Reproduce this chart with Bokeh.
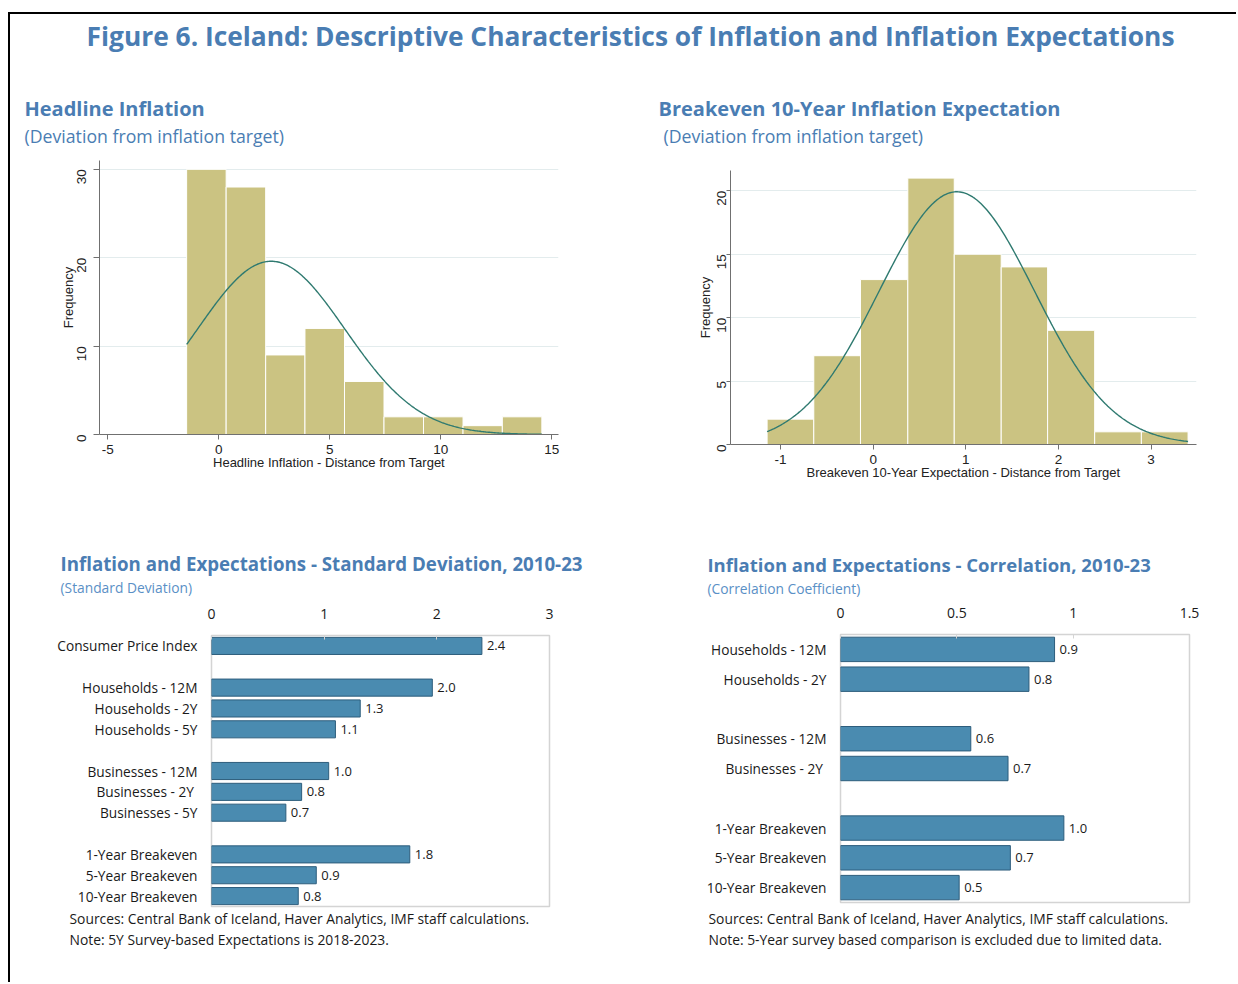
import math
import numpy as np
from bokeh.plotting import figure
from bokeh.models import (Range1d, FactorRange, Title, FixedTicker, ColumnDataSource,
                          NumeralTickFormatter, PrintfTickFormatter, Div)
from bokeh.embed import file_html
from bokeh.resources import INLINE
from bokeh.core.properties import value

# ---------------- data ----------------
main_title = "Figure 6. Iceland: Descriptive Characteristics of Inflation and Inflation Expectations"

headline_edges = [-1.45, 0.33, 2.11, 3.88, 5.66, 7.44, 9.22, 11.0, 12.77, 14.55]
headline_counts = [30, 28, 9, 12, 6, 2, 2, 1, 2]
headline_xticks = [-5, 0, 5, 10, 15]
headline_yticks = [0, 10, 20, 30]

breakeven_edges = [-1.145, -0.641, -0.137, 0.374, 0.875, 1.382, 1.883, 2.391, 2.895, 3.399]
breakeven_counts = [2, 7, 13, 21, 15, 14, 9, 1, 1]
breakeven_xticks = [-1, 0, 1, 2, 3]
breakeven_yticks = [0, 5, 10, 15, 20]

sd_groups = [
    ["Consumer Price Index"],
    ["Households - 12M", "Households - 2Y", "Households - 5Y"],
    ["Businesses - 12M", "Businesses -  2Y", "Businesses - 5Y"],
    ["1-Year Breakeven", "5-Year Breakeven", "10-Year Breakeven"],
]
sd_values = [2.40, 1.96, 1.32, 1.10, 1.04, 0.80, 0.66, 1.76, 0.93, 0.77]
sd_xticks = [0, 1, 2, 3]

corr_groups = [
    ["Households - 12M", "Households - 2Y"],
    ["Businesses - 12M", "Businesses -  2Y"],
    ["1-Year Breakeven", "5-Year Breakeven", "10-Year Breakeven"],
]
corr_values = [0.92, 0.81, 0.56, 0.72, 0.96, 0.73, 0.51]
corr_xticks = [0, 0.5, 1, 1.5]

sources = "Sources: Central Bank of Iceland, Haver Analytics, IMF staff calculations."
sd_note = "Note: 5Y Survey-based Expectations is 2018-2023."
corr_note = "Note: 5-Year survey based comparison is excluded due to limited data."

# ---------------- styles ----------------
TITLE_BLUE = "#4a7db3"
SUB_BLUE = "#5a90c6"
KHAKI = "#cbc382"
CURVE = "#2f7a70"
BAR_BLUE = "#4a8bb0"
BAR_EDGE = "#2d5d7c"
HEAD_FONT = "Open Sans"
HIST_FONT = "Liberation Sans"
NBSP = "\u00a0"


def place(x, y):
    return {"position": "absolute", "left": f"{x}px", "top": f"{y}px"}


def spacer(p, side, standoff):
    p.add_layout(Title(text=NBSP, text_font_size="2px", standoff=standoff), side)


def text_title(p, side, text, offset, size, color, bold=False):
    p.add_layout(Title(text=text, align="left", offset=offset, text_font=HEAD_FONT,
                       text_font_size=size, text_font_style="bold" if bold else "normal",
                       text_color=color, standoff=0), side)


def histogram(edges, counts, xticks, yticks, xr, yr, xlabel, pos, width, height, borders,
              ytick_out, ylab_standoff, yaxis_label_standoff):
    p = figure(width=width, height=height, x_range=Range1d(*xr), y_range=Range1d(*yr),
               toolbar_location=None, output_backend="svg", outline_line_color=None,
               min_border_left=borders[0], min_border_right=borders[1],
               min_border_top=borders[2], min_border_bottom=borders[3],
               styles=place(*pos))
    e = np.array(edges, dtype=float)
    c = np.array(counts, dtype=float)
    p.quad(left=e[:-1], right=e[1:], bottom=0, top=c, fill_color=KHAKI, line_color="white", line_width=1)
    # normal density overlay using the histogram's own mean and standard deviation
    mids = (e[:-1] + e[1:]) / 2
    n = c.sum()
    mean = (mids * c).sum() / n
    sd = math.sqrt((c * (mids - mean) ** 2).sum() / (n - 1))
    bw = (e[-1] - e[0]) / len(c)
    xs = np.linspace(e[0], e[-1], 300)
    ys = n * bw * np.exp(-0.5 * ((xs - mean) / sd) ** 2) / (sd * math.sqrt(2 * math.pi))
    p.line(xs, ys, line_color=CURVE, line_width=1.4)

    p.xgrid.visible = False
    p.ygrid.ticker = FixedTicker(ticks=yticks[1:])
    p.ygrid.grid_line_color = "#e3eced"
    p.xaxis.ticker = FixedTicker(ticks=xticks)
    p.xaxis.formatter = PrintfTickFormatter(format="%d")
    p.yaxis.ticker = FixedTicker(ticks=yticks)
    for ax in (p.xaxis[0], p.yaxis[0]):
        ax.axis_line_color = "#707070"
        ax.major_tick_line_color = "#707070"
        ax.major_tick_in = 0
        ax.minor_tick_line_color = None
        ax.major_label_text_font = HIST_FONT
        ax.major_label_text_font_size = "13.5px"
        ax.major_label_text_color = "#222222"
        ax.axis_label_text_font = HIST_FONT
        ax.axis_label_text_font_size = "13px"
        ax.axis_label_text_font_style = "normal"
        ax.axis_label_text_color = "#222222"
    p.xaxis.major_tick_out = 5
    p.yaxis.major_tick_out = ytick_out
    p.yaxis.major_label_orientation = math.pi / 2
    p.yaxis.axis_label = "Frequency"
    p.yaxis.major_label_standoff = ylab_standoff
    p.yaxis.axis_label_standoff = yaxis_label_standoff
    p.xaxis.axis_label = xlabel
    p.xaxis.major_label_standoff = 5
    p.xaxis.axis_label_standoff = -2
    return p


def bar_chart(groups, values, xticks, xr, pos, width, height, borders, fmt):
    factors = []
    for gi, g in enumerate(groups):
        if gi > 0:
            factors.append(" " * gi)
        factors.extend(g)
    cats = [c for g in groups for c in g]
    src = ColumnDataSource(dict(cat=cats, val=values, lab=[f"{v:.1f}" for v in values]))
    p = figure(width=width, height=height, x_range=Range1d(*xr),
               y_range=FactorRange(factors=factors[::-1]), x_axis_location="above",
               toolbar_location=None, output_backend="svg",
               outline_line_color="#d4d4d4", outline_line_width=1.5,
               min_border_left=borders[0], min_border_right=borders[1],
               min_border_top=borders[2], min_border_bottom=borders[3],
               styles=place(*pos))
    p.hbar(y="cat", left=0, right="val", height=0.82, source=src,
           fill_color=BAR_BLUE, line_color=BAR_EDGE, line_width=1)
    p.text(x="val", y="cat", text="lab", source=src, x_offset=5, text_baseline="middle",
           text_font=value(HEAD_FONT), text_font_size="13px", text_color="#1a1a1a")
    p.grid.visible = False
    p.xaxis.ticker = FixedTicker(ticks=xticks)
    if fmt:
        p.xaxis.formatter = NumeralTickFormatter(format=fmt)
    for ax in (p.xaxis[0], p.yaxis[0]):
        ax.axis_line_color = None
        ax.minor_tick_line_color = None
        ax.major_label_text_font = HEAD_FONT
        ax.major_label_text_color = "#1a1a1a"
    p.xaxis.major_label_text_font_size = "14px"
    p.yaxis.major_label_text_font_size = "13.7px"
    p.xaxis.major_tick_in = 4
    p.xaxis.major_tick_out = 0
    p.xaxis.major_tick_line_color = "#d4d4d4"
    p.xaxis.major_label_standoff = 17
    p.yaxis.major_tick_line_color = None
    p.yaxis.major_tick_out = 0
    p.yaxis.major_tick_in = 0
    p.yaxis.major_label_standoff = 14
    return p


# ---------------- frame border ----------------
border = Div(text="", width=1228, height=970, margin=0,
             styles={"position": "absolute", "left": "8px", "top": "12px",
                     "border-top": "2px solid #000", "border-left": "2px solid #000"})

# ---------------- title strip ----------------
pt = figure(width=1200, height=46, x_range=Range1d(0, 1), y_range=Range1d(0, 1),
            toolbar_location=None, output_backend="svg", outline_line_color=None,
            min_border=0, styles=place(30, 14))
pt.scatter([], [])
pt.axis.visible = False
pt.grid.visible = False
pt.title.text = main_title
pt.title.align = "center"
pt.title.text_font = HEAD_FONT
pt.title.text_font_size = "26.35px"
pt.title.text_font_style = "bold"
pt.title.text_color = TITLE_BLUE
pt.title.standoff = 2

# ---------------- histograms ----------------
h1 = histogram(headline_edges, headline_counts, headline_xticks, headline_yticks,
               (-5.375, 15.3), (0, 31.0), "Headline Inflation - Distance from Target",
               (10, 60), 615, 440, (89, 67, 100, 66), 6, 12, -6)
spacer(h1, "above", 9)
text_title(h1, "above", "(Deviation from inflation target)", -75, "17.7px", TITLE_BLUE)
text_title(h1, "above", "Headline Inflation", -75, "20px", TITLE_BLUE, bold=True)

h2 = histogram(breakeven_edges, breakeven_counts, breakeven_xticks, breakeven_yticks,
               (-1.54, 3.49), (0, 21.6), "Breakeven 10-Year Expectation - Distance from Target",
               (625, 60), 610, 440, (105, 39, 110, 56), 4, 5, -3)
spacer(h2, "above", 19)
text_title(h2, "above", "(Deviation from inflation target)", -67, "17.7px", TITLE_BLUE)
text_title(h2, "above", "Breakeven 10-Year Inflation Expectation", -72, "20px", TITLE_BLUE, bold=True)

# ---------------- bar charts ----------------
b1 = bar_chart(sd_groups, sd_values, sd_xticks, (0, 3), (10, 500), 615, 480, (201, 76, 135, 74), None)
spacer(b1, "above", 5)
text_title(b1, "above", "(Standard Deviation)", -151, "13.8px", SUB_BLUE)
text_title(b1, "above", "Inflation and Expectations - Standard Deviation, 2010-23", -151, "18.7px",
           TITLE_BLUE, bold=True)
text_title(b1, "below", sources, -142, "13.85px", "#1a1a1a")
text_title(b1, "below", sd_note, -142, "13.85px", "#1a1a1a")

b2 = bar_chart(corr_groups, corr_values, corr_xticks, (0, 1.5), (625, 500), 610, 480,
               (215, 46, 134, 78), "0.[0]")
spacer(b2, "above", 3)
text_title(b2, "above", "(Correlation Coefficient)", -133, "13.8px", SUB_BLUE)
text_title(b2, "above", "Inflation and Expectations - Correlation, 2010-23", -133, "18.5px",
           TITLE_BLUE, bold=True)
spacer(b2, "below", 0)
text_title(b2, "below", sources, -132, "13.85px", "#1a1a1a")
text_title(b2, "below", corr_note, -132, "13.85px", "#1a1a1a")

open("out.html", "w").write(file_html([border, pt, h1, h2, b1, b2], INLINE))
